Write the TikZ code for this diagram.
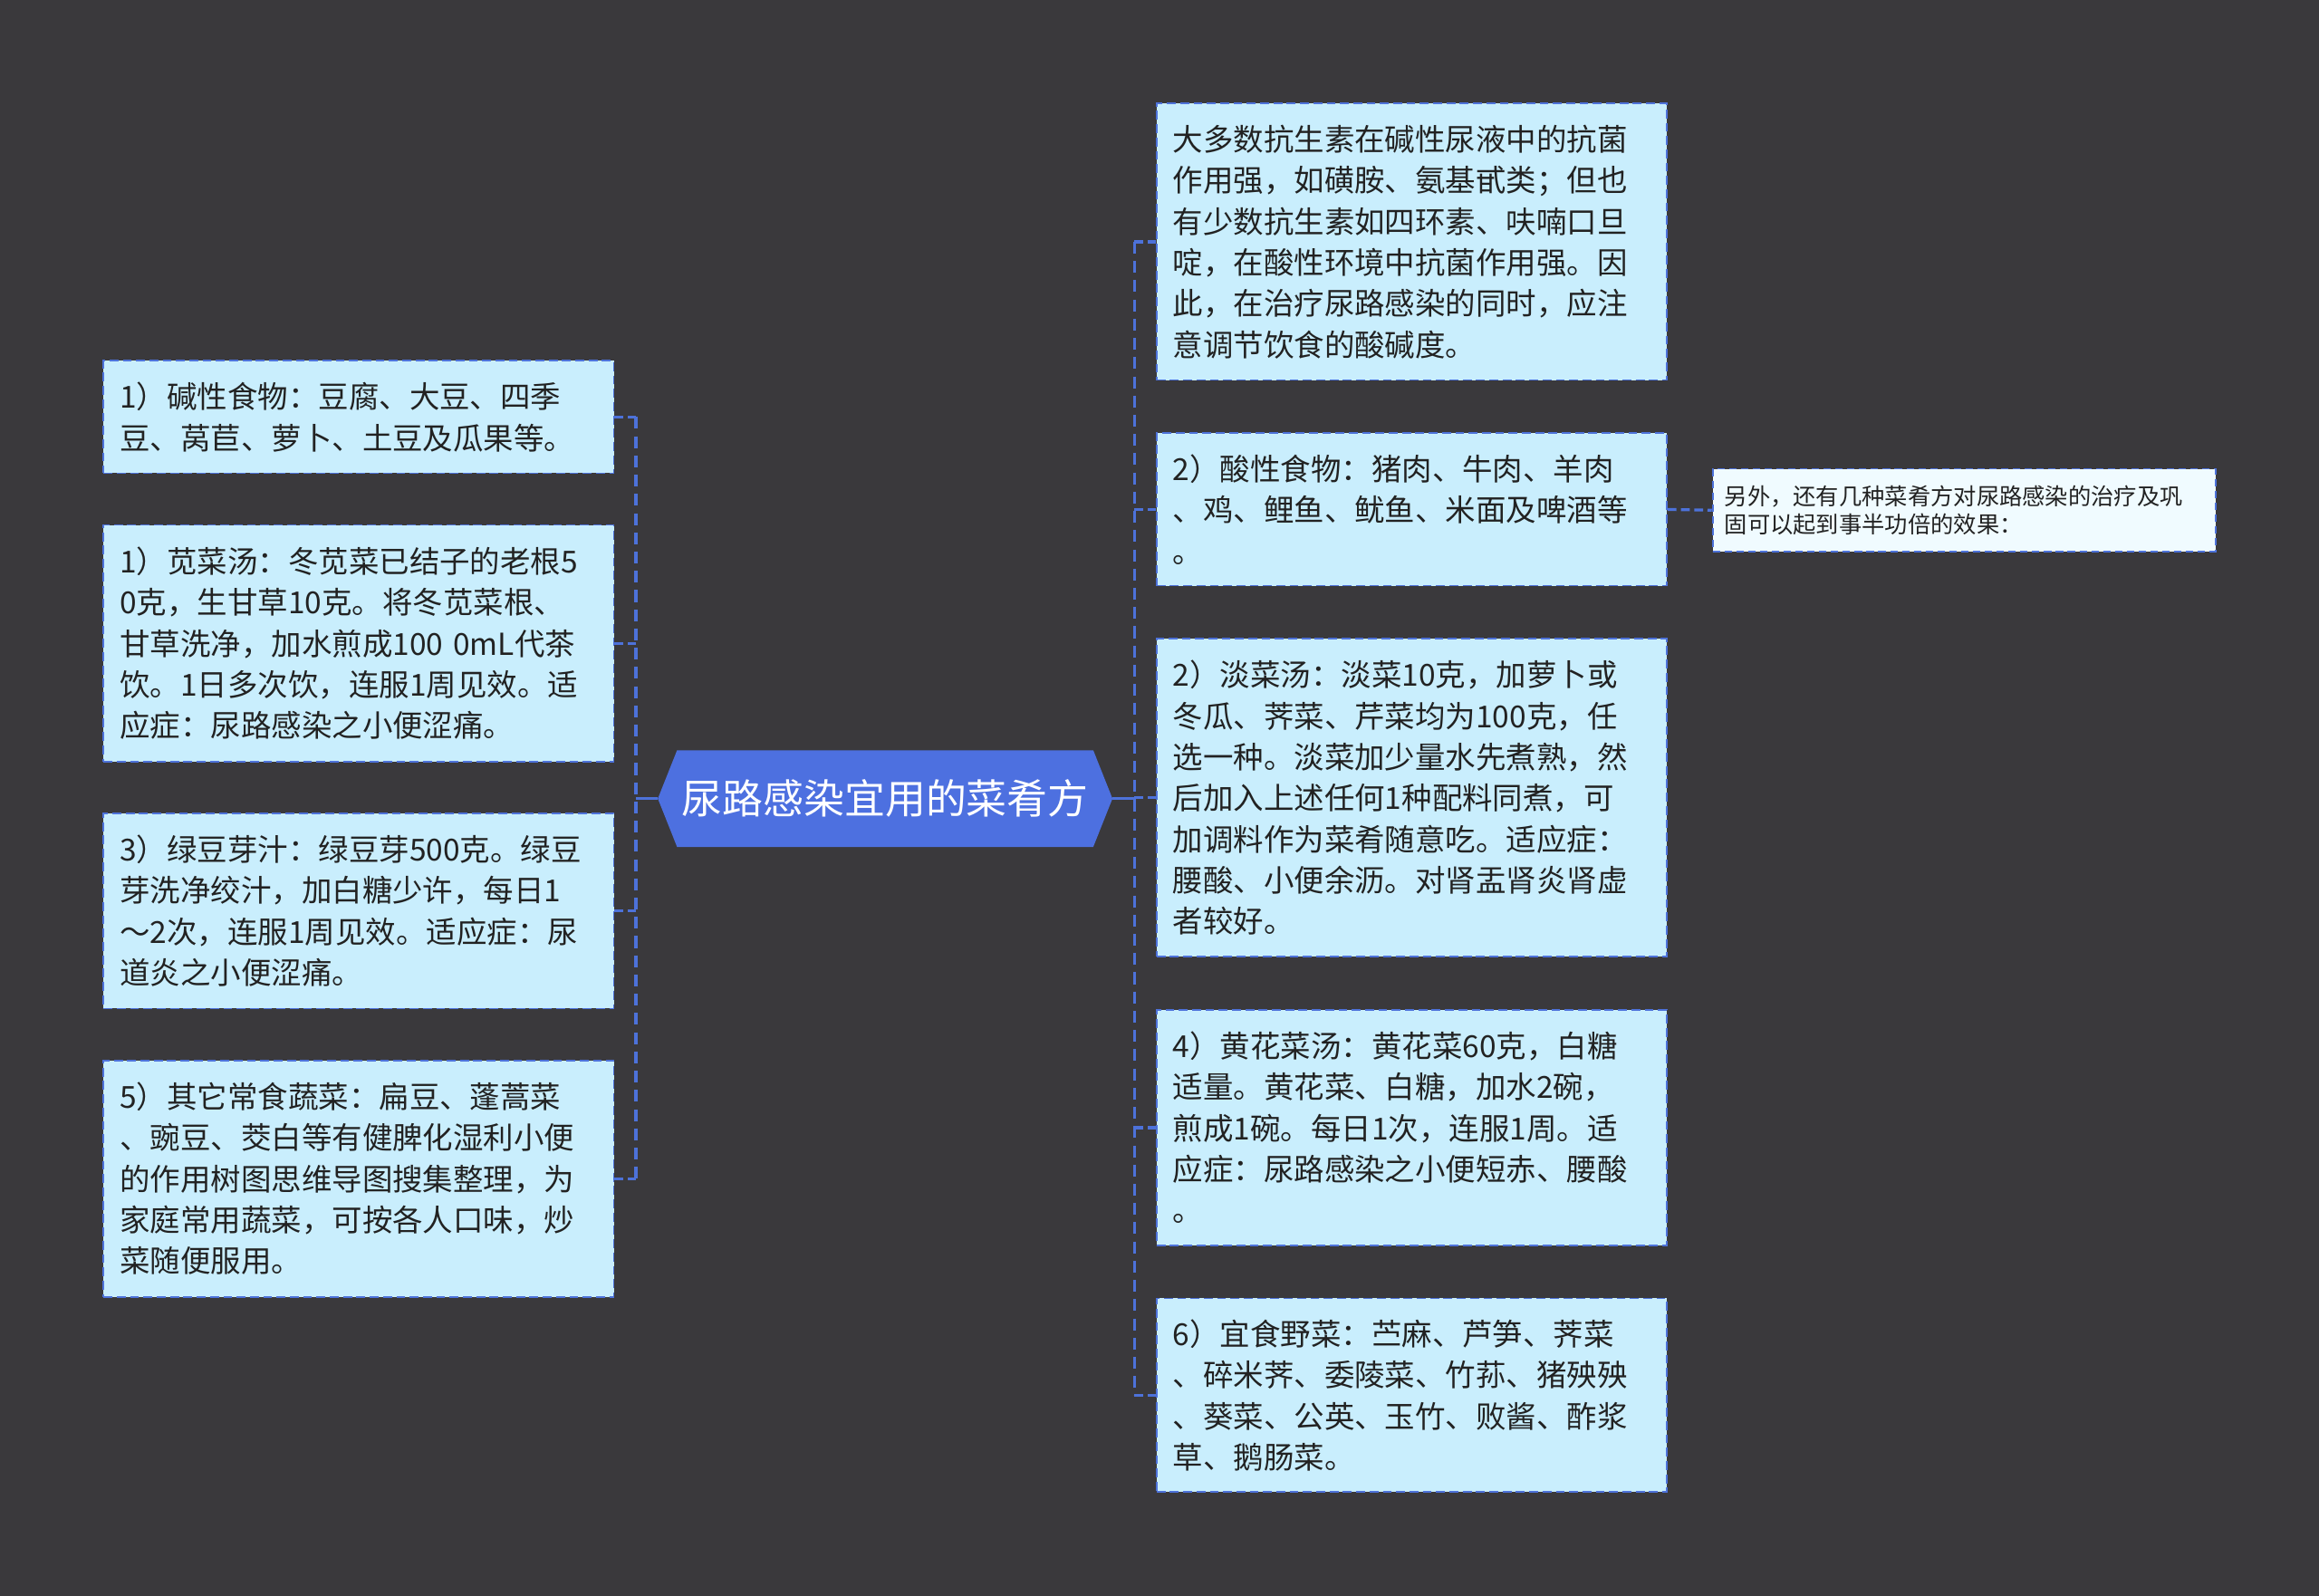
\documentclass[tikz,border=0pt]{standalone}
\usepackage{fontspec}
\setmainfont{Noto Sans CJK SC}
\usetikzlibrary{backgrounds}
\definecolor{bgc}{HTML}{3A393C}
\definecolor{boxfill}{HTML}{C9EEFD}
\definecolor{lineblue}{HTML}{4D72DA}
\definecolor{centerblue}{HTML}{4D70E0}
\definecolor{smallfill}{HTML}{F0FBFF}
\definecolor{txt}{HTML}{222222}
\tikzset{
  leafbox/.style={draw=lineblue, line width=1.1pt, dash pattern=on 6pt off 3pt, fill=boxfill,
    minimum width=345pt, text width=323pt, inner xsep=11pt, inner ysep=0pt, align=left,
    text=txt, font=\fontsize{20.5pt}{27.8pt}\selectfont},
  smallbox/.style={draw=lineblue, line width=1.1pt, dash pattern=on 5pt off 3pt, fill=smallfill,
    minimum width=340pt, text width=324pt, inner xsep=8pt, inner ysep=0pt, align=left,
    text=txt, font=\fontsize{15.5pt}{19pt}\selectfont},
  spine/.style={draw=lineblue, line width=2pt, dash pattern=on 8pt off 5pt},
  stub/.style={draw=lineblue, line width=2pt, dash pattern=on 6pt off 3pt},
  solidlink/.style={draw=lineblue, line width=2pt},
  centernode/.style={minimum width=281pt, minimum height=65pt, inner sep=0pt,
    text=white, font=\fontsize{27.5pt}{30pt}\selectfont}
}
\begin{document}
\begin{tikzpicture}[x=1pt,y=-1pt]
\useasboundingbox (0,0) rectangle (1568,1079);
\begin{scope}[on background layer]
\fill[bgc] (0,0) rectangle (1568,1079);
\end{scope}

% center node
\node[centernode] (c) at (598.5,540) {尿路感染宜用的菜肴方};
\begin{scope}[on background layer]
\fill[centerblue] ([xshift=-13pt]c.west) -- (c.north west) -- (c.north east) -- ([xshift=13pt]c.east) -- (c.south east) -- (c.south west) -- cycle;
\end{scope}
\coordinate (ctipL) at ([xshift=-13pt]c.west);
\coordinate (ctipR) at ([xshift=13pt]c.east);

% left boxes
\node[leafbox, minimum height=76pt] (l1) at (242.5,282) {1）碱性食物：豆腐、大豆、四季\\豆、莴苣、萝卜、土豆及瓜果等。};
\node[leafbox, minimum height=160pt] (l2) at (242.5,435) {1）苋菜汤：冬苋菜已结子的老根5\\0克，生甘草10克。将冬苋菜根、\\甘草洗净，加水煎成100 0mL代茶\\饮。1日多次饮，连服1周见效。适\\应症：尿路感染之小便涩痛。};
\node[leafbox, minimum height=132pt] (l3) at (242.5,616) {3）绿豆芽汁：绿豆芽500克。绿豆\\芽洗净绞汁，加白糖少许，每日1\\～2次，连服1周见效。适应症：尿\\道炎之小便涩痛。};
\node[leafbox, minimum height=160pt] (l4) at (242.5,797) {5）其它常食蔬菜：扁豆、蓬蒿菜\\、豌豆、茭白等有健脾化湿利小便\\的作用树图思维导图搜集整理，为\\家庭常用蔬菜，可按各人口味，炒\\菜随便服用。};

% right boxes
\node[leafbox, minimum height=187pt] (r1) at (954.5,163.5) {大多数抗生素在碱性尿液中的抗菌\\作用强，如磺胺、氨基甙类；但也\\有少数抗生素如四环素、呋喃口旦\\啶，在酸性环境中抗菌作用强。因\\此，在治疗尿路感染的同时，应注\\意调节饮食的酸碱度。};
\node[leafbox, minimum height=103pt] (r2) at (954.5,344.5) {2）酸性食物：猪肉、牛肉、羊肉\\、鸡、鲤鱼、鱿鱼、米面及啤酒等\\。};
\node[leafbox, minimum height=215pt] (r3) at (954.5,539.5) {2）淡菜汤：淡菜10克，加萝卜或\\冬瓜、荠菜、芹菜均为100克，任\\选一种。淡菜加少量水先煮熟，然\\后加入上述任何1种配料同煮，可\\加调料作为菜肴随意吃。适应症：\\腰酸、小便余沥。对肾盂肾炎肾虚\\者较好。};
\node[leafbox, minimum height=159pt] (r4) at (954.5,762.5) {4）黄花菜汤：黄花菜60克，白糖\\适量。黄花菜、白糖，加水2碗，\\煎成1碗。每日1次，连服1周。适\\应症：尿路感染之小便短赤、腰酸\\。};
\node[leafbox, minimum height=131pt] (r5) at (954.5,943.5) {6）宜食野菜：苎麻、芦笋、荠菜\\、碎米荠、委陵菜、竹荪、猪殃殃\\、葵菜、公英、玉竹、败酱、酢浆\\草、鹅肠菜。};

% small box
\node[smallbox, minimum height=56pt] (s) at (1328,345) {另外，还有几种菜肴方对尿路感染的治疗及巩\\固可以起到事半功倍的效果：};

% spine coordinates
\coordinate (lsTop) at (430,282);
\coordinate (lsBot) at (430,797);
\coordinate (lsMid) at (430,540);
\coordinate (rsTop) at (767,163.5);
\coordinate (rsBot) at (767,943.5);
\coordinate (rsMid) at (767,540);

% left spine and stubs
\draw[spine] (lsTop) -- (lsBot);
\draw[solidlink] (ctipL) -- (lsMid);
\draw[stub] (l1.east) -- (l1.east -| lsTop);
\draw[stub] (l2.east) -- (l2.east -| lsTop);
\draw[stub] (l3.east) -- (l3.east -| lsTop);
\draw[stub] (l4.east) -- (l4.east -| lsTop);

% right spine and stubs
\draw[spine] (rsTop) -- (rsBot);
\draw[solidlink] (ctipR) -- (rsMid);
\draw[stub] (r1.west -| rsTop) -- (r1.west);
\draw[stub] (r2.west -| rsTop) -- (r2.west);
\draw[stub] (r3.west -| rsTop) -- (r3.west);
\draw[stub] (r4.west -| rsTop) -- (r4.west);
\draw[stub] (r5.west -| rsTop) -- (r5.west);

% right secondary link
\draw[stub] (r2.east) -- (s.west);
\end{tikzpicture}
\end{document}
